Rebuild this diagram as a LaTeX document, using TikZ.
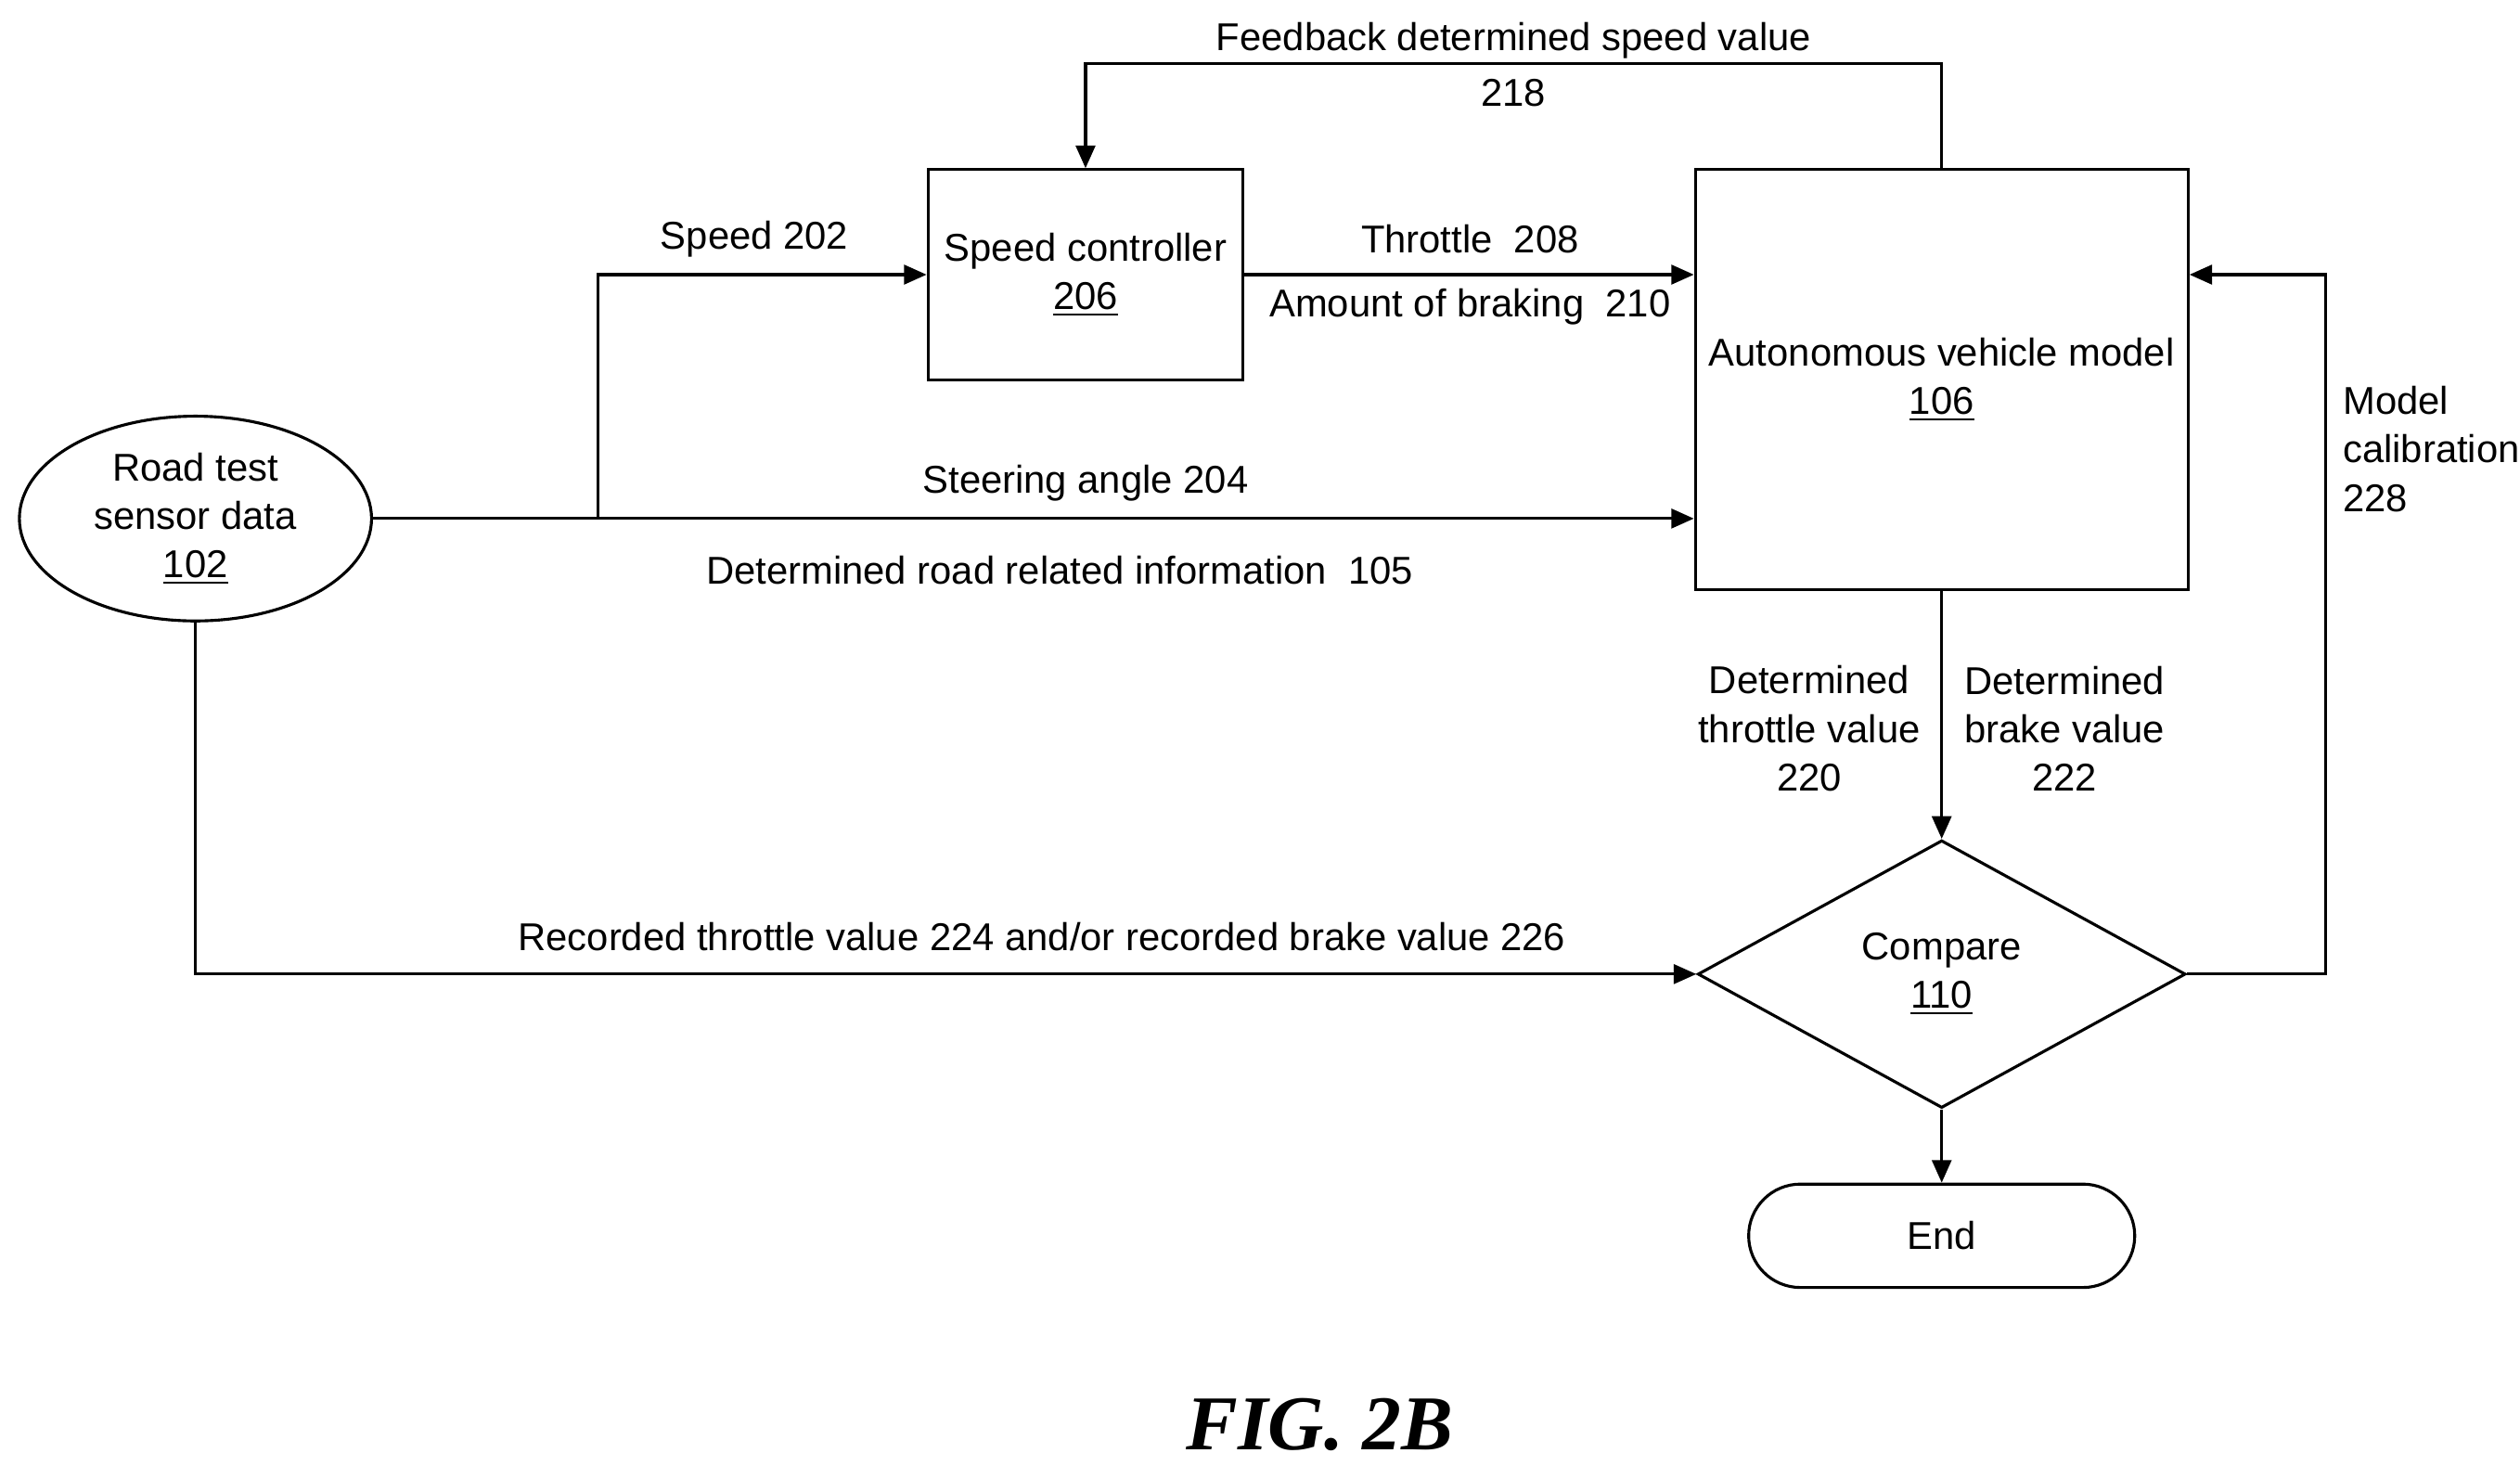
\documentclass[tikz,border=0pt]{standalone}
\usepackage{fontspec}
\setmainfont{Liberation Sans}
\newfontfamily\capfont{Liberation Serif}
\usetikzlibrary{arrows.meta,positioning,shapes.geometric}

\begin{document}
\begin{tikzpicture}[
        x=0.5pt, y=-0.5pt,
        font=\fontsize{12}{15}\selectfont,
        mybox/.style={
            draw=black,
            line width=0.9pt,
            align=center,
            inner sep=2pt},
        mylabel/.style={align=center, inner sep=1pt},
        myarrow/.style={-{Triangle[length=7pt,width=6pt]}, line width=0.9pt},
        myline/.style={line width=0.9pt}
        ]
        \useasboundingbox (0,0) rectangle (1560,907);
        \node[mybox,ellipse,minimum width=109pt,minimum height=60pt] (road) at (121,321)
            {Road test\\sensor data\\\underline{102}};
        \node[mybox,minimum width=97.5pt,minimum height=65pt] (speed) at (672,170)
            {Speed controller\\\underline{206}};
        \node[mybox,minimum width=152.5pt,minimum height=130pt] (av) at (1202,235)
            {Autonomous vehicle model\\\underline{106}};
        \node[mybox,diamond,minimum width=151pt,minimum height=65pt] (cmp) at (1202,603)
            {Compare\\\underline{110}};
        \node[mybox,rounded corners=16pt,minimum width=119.5pt,minimum height=32pt] (end) at (1202,765) {End};

        \coordinate (split) at (370,321);

        % inputs to the model
        \draw[myarrow] (road.east) -- (av.west |- road.east);
        \draw[myarrow] (split) |- (speed.west);
        \draw[myarrow] (speed.east) -- (av.west |- speed.east);
        \draw[myarrow] (av.north) -- ++(0,-65) -| (speed.north);

        % outputs
        \draw[myarrow] (av.south) -- (cmp.north);
        \draw[myarrow] (road.south) |- (cmp.west);
        \draw[myarrow] (cmp.east) -- ++(86,0) |- (av.east |- speed.east);
        \draw[myarrow] (cmp.south) -- (end.north);

        % labels
        \node[mylabel] (l202) at (467,148) {Speed 202};
        \node[mylabel] (l204) at (672,299) {Steering angle 204};
        \node[mylabel] (l105) at (656,353) {Determined road related information\ \ 105};
        \node[mylabel] (l208) at (910,148) {Throttle\ \ 208};
        \node[mylabel] (l210) at (910,190) {Amount of braking\ \ 210};
        \node[mylabel] (l218) at (937,40) {Feedback determined speed value\\[2pt]218};
        \node[mylabel] (l220) at (1120,451) {Determined\\throttle value\\220};
        \node[mylabel] (l222) at (1278,451) {Determined\\brake value\\222};
        \node[mylabel] (l224) at (645,580) {Recorded throttle value 224 and/or recorded brake value 226};
        \node[mylabel,align=left,anchor=west] (l228) at (1448,278) {Model\\calibration\\228};

        \node (fig) at (817,882) {\capfont\fontsize{24}{28}\selectfont\bfseries\itshape FIG. 2B};
\end{tikzpicture}
\end{document}
